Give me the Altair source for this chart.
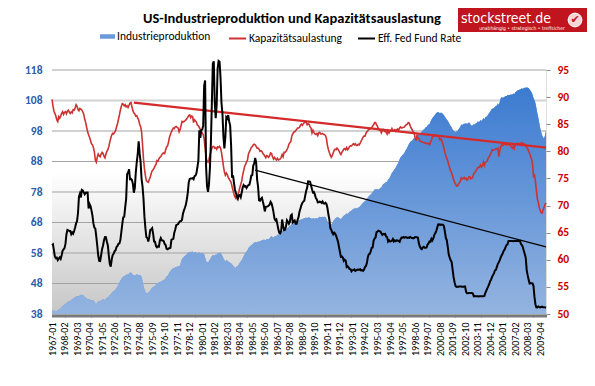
import altair as alt
import pandas as pd

# ---------------- data (monthly, 1967-01 .. 2009-10) ----------------
START_YEAR = 1967

ip = [  # Industrieproduktion (index, left axis)
    39.3, 39.1, 39.0, 39.1, 38.9, 39.0, 39.2, 39.5, 39.6, 39.8, 40.2, 40.6,
    40.8, 41.1, 41.4, 41.5, 41.9, 42.1, 42.2, 42.3, 42.6, 42.8, 43.1, 43.3,
    43.5, 43.7, 43.9, 43.8, 43.9, 44.1, 44.2, 44.3, 44.2, 44.0, 43.6, 43.4,
    43.1, 42.9, 42.8, 42.7, 42.6, 42.5, 42.5, 42.4, 42.1, 41.4, 41.3, 41.7,
    42.2, 42.1, 42.2, 42.5, 42.7, 42.8, 42.7, 42.6, 43.0, 43.3, 43.5, 43.7,
    44.2, 44.5, 44.9, 45.3, 45.5, 45.7, 46.0, 46.5, 47.0, 47.7, 48.3, 48.9,
    49.5, 50.0, 50.2, 50.4, 50.6, 50.8, 51.0, 50.9, 51.3, 51.5, 51.6, 51.3,
    50.9, 50.6, 50.6, 50.7, 51.0, 50.9, 50.8, 50.8, 50.6, 50.2, 48.8, 47.2,
    46.1, 45.2, 44.7, 44.8, 44.9, 45.3, 45.7, 46.2, 46.6, 46.8, 47.0, 47.3,
    47.7, 48.2, 48.2, 48.4, 48.5, 48.6, 48.7, 49.0, 49.2, 49.2, 49.8, 50.4,
    50.5, 51.0, 51.7, 52.1, 52.5, 52.8, 53.0, 53.1, 53.3, 53.4, 53.5, 53.7,
    53.5, 54.0, 55.0, 56.1, 56.4, 56.8, 57.0, 57.3, 57.6, 57.9, 58.2, 58.4,
    58.2, 58.4, 58.5, 57.9, 58.3, 58.3, 58.2, 57.9, 58.1, 58.2, 58.0, 58.0,
    58.0, 57.9, 57.6, 56.5, 55.4, 55.0, 54.9, 55.3, 55.9, 56.4, 57.0, 57.3,
    57.2, 57.2, 57.5, 57.4, 57.8, 57.9, 58.2, 58.0, 57.6, 57.0, 56.3, 55.7,
    55.1, 55.8, 55.5, 55.2, 55.0, 54.8, 54.6, 54.2, 53.9, 53.5, 53.3, 53.0,
    53.7, 53.7, 54.2, 54.8, 55.2, 55.6, 56.3, 56.9, 57.6, 58.1, 58.5, 58.8,
    59.6, 60.0, 60.3, 60.6, 60.8, 61.1, 61.4, 61.6, 61.5, 61.5, 61.7, 61.8,
    61.8, 62.0, 62.2, 62.2, 62.4, 62.3, 62.2, 62.6, 62.6, 62.5, 62.8, 63.3,
    63.5, 63.2, 63.1, 63.4, 63.5, 63.6, 64.0, 64.0, 64.2, 64.5, 64.8, 65.2,
    65.0, 65.5, 65.6, 65.9, 66.1, 66.3, 66.6, 66.9, 67.1, 67.6, 67.8, 68.0,
    68.1, 68.2, 68.3, 68.4, 68.6, 68.7, 68.9, 69.1, 69.0, 69.3, 69.4, 69.5,
    69.6, 69.4, 69.6, 69.7, 69.5, 69.5, 69.0, 69.5, 69.3, 69.2, 69.3, 69.5,
    69.2, 69.7, 69.9, 69.7, 69.8, 69.9, 69.8, 69.9, 69.8, 69.2, 68.4, 68.0,
    67.7, 67.5, 67.3, 67.7, 68.3, 68.9, 69.2, 69.4, 69.8, 69.7, 69.5, 69.3,
    69.1, 69.5, 69.9, 70.2, 70.5, 70.6, 71.0, 70.8, 71.1, 71.5, 71.7, 71.9,
    72.2, 72.5, 72.5, 72.7, 72.6, 72.7, 72.9, 73.0, 73.3, 73.7, 74.1, 74.5,
    74.8, 74.9, 75.4, 75.8, 76.2, 76.6, 76.9, 77.2, 77.5, 78.0, 78.3, 78.8,
    78.9, 78.8, 78.9, 78.8, 79.0, 79.4, 79.4, 80.1, 80.6, 80.7, 81.0, 81.3,
    81.3, 82.2, 82.3, 83.0, 83.6, 84.3, 84.6, 85.1, 85.6, 86.0, 86.7, 87.3,
    87.8, 88.7, 89.4, 89.7, 90.1, 90.5, 90.9, 91.5, 92.0, 92.6, 93.3, 93.9,
    94.4, 94.6, 94.9, 95.3, 95.8, 95.5, 95.2, 96.7, 96.6, 97.1, 97.2, 97.4,
    97.8, 98.2, 98.5, 98.7, 99.2, 99.3, 99.8, 100.1, 100.2, 101.0, 101.7, 102.3,
    102.6, 103.0, 103.4, 103.9, 104.1, 104.2, 104.0, 103.8, 104.1, 103.8, 103.6, 103.2,
    102.7, 102.2, 101.8, 101.4, 100.8, 100.1, 99.6, 99.2, 98.5, 98.1, 97.8, 97.7,
    97.8, 97.9, 98.5, 98.9, 99.4, 100.1, 100.0, 100.2, 100.5, 100.3, 100.6, 100.2,
    100.6, 100.8, 100.5, 99.9, 99.7, 99.9, 100.2, 100.1, 100.5, 100.6, 101.1, 101.0,
    101.0, 101.6, 101.3, 101.7, 102.3, 101.8, 102.5, 102.7, 102.8, 103.5, 103.8, 104.4,
    104.8, 105.4, 105.3, 105.6, 105.9, 106.3, 106.3, 107.1, 106.5, 107.6, 108.7, 109.1,
    108.9, 109.0, 109.2, 109.5, 109.4, 109.8, 109.7, 109.8, 109.9, 110.0, 109.9, 110.4,
    110.0, 110.6, 110.9, 111.3, 111.3, 111.5, 111.6, 111.8, 112.0, 111.8, 112.1, 112.2,
    112.3, 112.2, 112.3, 112.0, 111.6, 111.2, 110.7, 110.0, 108.8, 108.2, 107.2, 105.6,
    103.8, 102.4, 100.6, 99.0, 97.6, 96.6, 95.9, 95.6, 96.6, 98.2,
]

cu = [  # Kapazitaetsauslastung (%, right axis)
    89.6, 88.4, 87.4, 87.0, 86.5, 85.8, 85.5, 86.4, 86.1, 86.5, 87.0, 87.3,
    86.8, 87.2, 87.3, 86.9, 87.4, 87.6, 87.2, 87.0, 87.3, 87.1, 87.7, 87.6,
    88.0, 88.6, 88.3, 87.7, 87.5, 87.9, 87.8, 87.6, 87.3, 86.8, 85.9, 85.3,
    84.4, 83.6, 83.0, 82.6, 82.0, 81.4, 81.2, 80.7, 79.9, 78.4, 78.0, 78.9,
    79.5, 79.2, 79.0, 79.5, 79.8, 79.6, 79.1, 78.8, 79.5, 80.0, 80.3, 80.9,
    81.7, 82.4, 83.0, 83.3, 83.2, 83.5, 83.8, 84.5, 85.1, 85.9, 86.7, 87.6,
    88.3, 88.8, 88.7, 88.4, 88.6, 88.2, 88.4, 88.1, 88.5, 88.9, 89.0, 88.2,
    87.5, 87.1, 86.9, 86.5, 86.6, 86.1, 85.8, 85.0, 84.6, 83.6, 81.3, 78.6,
    76.8, 75.5, 74.6, 74.4, 74.3, 74.8, 75.2, 75.9, 76.4, 76.6, 76.9, 77.3,
    77.6, 78.3, 78.2, 78.6, 78.9, 79.0, 79.4, 79.6, 79.7, 79.6, 80.3, 80.8,
    81.0, 81.7, 82.6, 83.1, 83.6, 84.0, 84.3, 84.2, 84.5, 84.6, 84.4, 84.3,
    83.6, 84.0, 84.7, 85.5, 85.4, 85.5, 85.6, 85.8, 86.0, 86.3, 86.6, 86.7,
    86.2, 86.5, 86.4, 85.3, 85.8, 85.6, 85.4, 84.8, 84.7, 84.4, 84.0, 83.6,
    83.4, 83.1, 82.3, 80.6, 78.9, 78.2, 78.0, 78.5, 79.3, 79.9, 80.6, 80.9,
    80.9, 80.6, 80.7, 80.4, 80.8, 80.7, 80.9, 80.6, 79.8, 78.6, 77.3, 76.2,
    75.6, 76.0, 75.7, 75.2, 74.9, 74.6, 74.3, 73.5, 72.8, 72.1, 71.6, 71.3,
    72.0, 72.0, 72.5, 73.3, 73.9, 74.5, 75.6, 76.4, 77.2, 77.6, 78.0, 78.4,
    79.5, 79.9, 80.3, 80.7, 80.9, 81.2, 81.3, 81.2, 80.9, 80.6, 80.6, 80.4,
    80.0, 80.1, 80.0, 79.6, 79.4, 79.1, 78.8, 79.2, 79.1, 78.9, 79.2, 79.7,
    79.6, 79.0, 78.6, 78.9, 78.6, 78.4, 78.7, 78.4, 78.5, 78.6, 78.9, 79.4,
    79.0, 79.8, 79.8, 80.0, 80.3, 80.7, 81.3, 81.6, 81.8, 82.8, 83.2, 83.5,
    83.6, 83.8, 84.0, 84.3, 84.3, 84.4, 84.8, 85.0, 84.8, 85.1, 85.3, 85.4,
    85.3, 84.9, 85.1, 85.0, 84.5, 84.3, 83.4, 83.9, 83.5, 83.2, 83.1, 83.3,
    82.9, 83.4, 83.5, 83.2, 83.2, 83.3, 83.1, 83.1, 82.9, 82.4, 81.1, 80.4,
    79.8, 79.3, 78.9, 79.2, 79.7, 80.2, 80.4, 80.3, 80.6, 80.4, 80.1, 79.7,
    79.4, 79.8, 80.1, 80.4, 80.5, 80.3, 80.7, 80.3, 80.5, 80.9, 81.0, 81.0,
    81.2, 81.4, 81.2, 81.4, 81.1, 81.1, 81.3, 81.2, 81.5, 81.9, 82.2, 82.6,
    82.8, 82.8, 83.3, 83.6, 83.8, 84.1, 84.1, 84.2, 84.3, 84.7, 84.9, 85.3,
    85.3, 84.9, 84.6, 84.1, 83.9, 83.9, 83.4, 83.8, 84.0, 83.7, 83.6, 83.6,
    83.2, 83.8, 83.4, 83.7, 83.8, 84.2, 83.8, 83.9, 84.0, 83.7, 84.0, 84.1,
    83.9, 84.3, 84.5, 84.3, 84.4, 84.4, 84.5, 84.8, 84.9, 85.0, 85.3, 85.2,
    84.7, 84.3, 84.0, 83.6, 83.4, 82.6, 82.0, 82.9, 82.4, 82.3, 81.9, 81.8,
    81.8, 81.7, 81.6, 81.5, 81.6, 81.4, 81.5, 81.4, 81.2, 81.7, 82.1, 82.6,
    82.8, 82.9, 82.8, 83.0, 82.9, 82.8, 82.5, 82.1, 82.3, 81.8, 81.3, 80.6,
    79.8, 79.2, 78.7, 78.2, 77.5, 76.9, 76.4, 76.0, 75.4, 74.8, 74.3, 74.0,
    73.6, 73.6, 73.9, 74.2, 74.5, 75.1, 74.9, 75.0, 75.2, 74.9, 75.0, 74.7,
    74.9, 75.3, 75.3, 74.9, 75.0, 75.3, 75.9, 76.0, 76.4, 76.6, 77.0, 77.0,
    77.1, 77.5, 77.1, 77.4, 78.0, 77.4, 78.0, 78.1, 78.2, 78.8, 79.0, 79.4,
    79.7, 80.3, 80.2, 80.3, 80.3, 80.5, 80.4, 80.6, 79.0, 80.2, 80.9, 81.3,
    81.1, 81.2, 81.3, 81.5, 81.2, 81.4, 81.2, 81.3, 81.1, 80.8, 80.6, 81.0,
    80.5, 81.2, 81.3, 81.5, 81.3, 81.4, 81.4, 81.5, 81.6, 81.2, 81.4, 81.3,
    81.0, 80.7, 80.5, 80.0, 79.6, 79.1, 78.6, 77.6, 75.4, 75.6, 74.5, 72.9,
    71.2, 70.6, 69.6, 69.1, 68.7, 68.6, 69.2, 69.7, 70.2, 70.5,
]

ff = [  # Effective Fed Funds Rate (%)
    4.94, 5.00, 4.53, 4.05, 3.94, 3.98, 3.79, 3.90, 3.99, 3.88, 4.13, 4.51,
    4.61, 4.71, 5.05, 5.76, 6.11, 6.07, 6.03, 6.03, 5.78, 5.91, 5.82, 6.02,
    6.30, 6.61, 6.79, 7.41, 8.67, 8.90, 8.61, 9.19, 9.15, 9.00, 8.85, 8.97,
    8.98, 8.98, 7.76, 8.10, 7.95, 7.61, 7.21, 6.61, 6.29, 6.20, 5.60, 4.90,
    4.14, 3.72, 3.71, 4.16, 4.63, 4.91, 5.31, 5.56, 5.55, 5.20, 4.91, 4.14,
    3.50, 3.29, 3.83, 4.17, 4.27, 4.46, 4.55, 4.80, 4.87, 5.04, 5.06, 5.33,
    5.94, 6.58, 7.09, 7.12, 7.84, 8.49, 10.40, 10.50, 10.78, 10.01, 10.03, 9.95,
    9.65, 8.97, 9.35, 10.51, 11.31, 11.93, 12.92, 12.01, 11.34, 10.06, 9.45, 8.53,
    7.13, 6.24, 5.54, 5.49, 5.22, 5.55, 6.10, 6.14, 6.24, 5.82, 5.22, 5.20,
    4.87, 4.77, 4.84, 4.82, 5.29, 5.48, 5.31, 5.29, 5.25, 5.03, 4.95, 4.65,
    4.61, 4.68, 4.69, 4.73, 5.35, 5.39, 5.42, 5.90, 6.14, 6.47, 6.51, 6.56,
    6.70, 6.78, 6.79, 6.89, 7.36, 7.60, 7.81, 8.04, 8.45, 8.96, 9.76, 10.03,
    10.07, 10.06, 10.09, 10.01, 10.24, 10.29, 10.47, 10.94, 11.43, 13.77, 13.18, 13.78,
    13.82, 14.13, 17.19, 17.61, 10.98, 9.47, 9.03, 9.61, 10.87, 12.81, 15.85, 18.90,
    19.08, 15.93, 14.70, 15.72, 18.52, 19.10, 19.04, 17.82, 15.87, 15.08, 13.31, 12.37,
    13.22, 14.78, 14.68, 14.94, 14.45, 14.15, 12.59, 10.12, 10.31, 9.71, 9.20, 8.95,
    8.68, 8.51, 8.77, 8.80, 8.63, 8.98, 9.37, 9.56, 9.45, 9.48, 9.34, 9.47,
    9.56, 9.59, 9.91, 10.29, 10.32, 11.06, 11.23, 11.64, 11.30, 9.99, 9.43, 8.38,
    8.35, 8.50, 8.58, 8.27, 7.97, 7.53, 7.88, 7.90, 7.92, 7.99, 8.05, 8.27,
    8.14, 7.86, 7.48, 6.99, 6.85, 6.92, 6.56, 6.17, 5.89, 5.85, 6.04, 6.91,
    6.43, 6.10, 6.13, 6.37, 6.85, 6.73, 6.58, 6.73, 7.22, 7.29, 6.69, 6.77,
    6.83, 6.58, 6.58, 6.87, 7.09, 7.51, 7.75, 8.01, 8.19, 8.30, 8.35, 8.76,
    9.12, 9.36, 9.85, 9.84, 9.81, 9.53, 9.24, 8.99, 9.02, 8.84, 8.55, 8.45,
    8.23, 8.24, 8.28, 8.26, 8.18, 8.29, 8.15, 8.13, 8.20, 8.11, 7.81, 7.31,
    6.91, 6.25, 6.12, 5.91, 5.78, 5.90, 5.82, 5.66, 5.45, 5.21, 4.81, 4.43,
    4.03, 4.06, 3.98, 3.73, 3.82, 3.76, 3.25, 3.30, 3.22, 3.10, 3.09, 2.92,
    3.02, 3.03, 3.07, 2.96, 3.00, 3.04, 3.06, 3.03, 3.09, 2.99, 3.02, 2.96,
    3.05, 3.25, 3.34, 3.56, 4.01, 4.25, 4.26, 4.47, 4.73, 4.76, 5.29, 5.45,
    5.53, 5.92, 5.98, 6.05, 6.01, 6.00, 5.85, 5.74, 5.80, 5.76, 5.80, 5.60,
    5.56, 5.22, 5.31, 5.22, 5.24, 5.27, 5.40, 5.22, 5.30, 5.24, 5.31, 5.29,
    5.25, 5.19, 5.39, 5.51, 5.50, 5.56, 5.52, 5.54, 5.54, 5.50, 5.52, 5.50,
    5.56, 5.51, 5.49, 5.45, 5.49, 5.56, 5.54, 5.55, 5.51, 5.07, 4.83, 4.68,
    4.63, 4.76, 4.81, 4.74, 4.74, 4.76, 4.99, 5.07, 5.22, 5.20, 5.42, 5.30,
    5.45, 5.73, 5.85, 6.02, 6.27, 6.53, 6.54, 6.50, 6.52, 6.51, 6.51, 6.40,
    5.98, 5.49, 5.31, 4.80, 4.21, 3.97, 3.77, 3.65, 3.07, 2.49, 2.09, 1.82,
    1.73, 1.74, 1.73, 1.75, 1.75, 1.75, 1.73, 1.74, 1.75, 1.75, 1.34, 1.24,
    1.24, 1.26, 1.25, 1.26, 1.26, 1.22, 1.01, 1.03, 1.01, 1.01, 1.00, 0.98,
    1.00, 1.01, 1.00, 1.00, 1.00, 1.03, 1.26, 1.43, 1.61, 1.76, 1.93, 2.16,
    2.28, 2.50, 2.63, 2.79, 3.00, 3.04, 3.26, 3.50, 3.62, 3.78, 4.00, 4.16,
    4.29, 4.49, 4.59, 4.79, 4.94, 4.99, 5.24, 5.25, 5.25, 5.25, 5.25, 5.24,
    5.25, 5.26, 5.26, 5.25, 5.25, 5.25, 5.26, 5.02, 4.94, 4.76, 4.49, 4.24,
    3.94, 2.98, 2.61, 2.28, 1.98, 2.00, 2.01, 2.00, 1.81, 0.97, 0.39, 0.16,
    0.15, 0.22, 0.18, 0.15, 0.18, 0.21, 0.16, 0.16, 0.15, 0.12,
]

# trend lines (month index, value)
trend_cu_t = [85, 513]
trend_cu_v = [89.0, 80.7]
trend_ff_t = [211, 513]
trend_ff_v = [10.7, 4.8]

left_ticks = [38, 48, 58, 68, 78, 88, 98, 108, 118]
right_ticks = [50, 55, 60, 65, 70, 75, 80, 85, 90, 95]

TITLE = "US-Industrieproduktion und Kapazitätsauslastung"
LEG_IP = "Industrieproduktion"
LEG_CU = "Kapazitätsaulastung"
LEG_FF = "Eff. Fed Fund Rate"

# ---------------- frames ----------------
N = len(ip)
t = list(range(N))
df_ip = pd.DataFrame({"t": t, "v": ip, "s": LEG_IP})
df_cu = pd.DataFrame({"t": t, "v": cu, "s": LEG_CU})
df_ff = pd.DataFrame({"t": t, "v": ff, "s": LEG_FF})
df_tcu = pd.DataFrame({"t": trend_cu_t, "v": trend_cu_v})
df_tff = pd.DataFrame({"t": trend_ff_t, "v": trend_ff_v})
df_grid = pd.DataFrame({"g": left_ticks})
df_one = pd.DataFrame({"a": [0]})

FONT = "Carlito, Calibri, 'Liberation Sans Narrow', 'Liberation Sans', sans-serif"

xscale = alt.Scale(domain=[0, N - 1], nice=False, zero=False)
label_expr = ("datum.value % 13 == 0 ? (1967 + floor(datum.value / 12)) + '-' + "
              "(datum.value % 12 < 9 ? '0' : '') + (datum.value % 12 + 1) : ''")
xaxis = alt.Axis(values=t, labelExpr=label_expr, labelAngle=270, labelFontSize=10,
                 labelColor="#000000", labelFont=FONT, labelOverlap=False,
                 labelFlush=False, labelBound=False, labelPadding=5,
                 tickColor="#7a7a7a", tickSize=3, domain=False, grid=False, title=None)
X = alt.X("t:Q", scale=xscale, axis=xaxis)

ip_scale = alt.Scale(domain=[38, 118], nice=False, zero=False)
cu_scale = alt.Scale(domain=[50, 95], nice=False, zero=False)
ff_scale = alt.Scale(domain=[-0.36, 18.41], nice=False, zero=False)

bg_grad = alt.Gradient(gradient="linear", x1=0, y1=0, x2=0, y2=1,
                       stops=[alt.GradientStop(offset=0, color="#ffffff"),
                              alt.GradientStop(offset=0.42, color="#ffffff"),
                              alt.GradientStop(offset=1, color="#c6c6c6")])
area_grad = alt.Gradient(gradient="linear", x1=0, y1=0, x2=0, y2=1,
                         stops=[alt.GradientStop(offset=0, color="#3c7bd1"),
                                alt.GradientStop(offset=1, color="#94b4e0")])

bg = alt.Chart(df_one).mark_rect(fill=bg_grad).encode(
    x=alt.X(datum=0, scale=xscale, axis=xaxis),
    x2=alt.X2(datum=N - 1),
    y=alt.Y(datum=38, scale=ip_scale, axis=None),
    y2=alt.Y2(datum=118),
)

grid = alt.Chart(df_grid).mark_rule().encode(
    y=alt.Y("g:Q", scale=ip_scale, axis=None),
    color=alt.condition(alt.datum.g == 108, alt.value("#d2d2d2"), alt.value("#a3a3a3")),
    strokeWidth=alt.condition(alt.datum.g == 108, alt.value(2), alt.value(1)),
)

ip_legend_area = alt.Chart(df_ip).mark_area().encode(
    x=X,
    y=alt.Y("v:Q", scale=ip_scale,
            axis=alt.Axis(orient="left", values=left_ticks, grid=False, ticks=False,
                          tickSize=0, domain=False, labelColor="#2b5ca8",
                          labelFontWeight="bold", labelFontSize=11.5, labelFont=FONT,
                          labelPadding=10, title=None)),
    y2=alt.Y2(datum=38),
    fill=alt.Fill("s:N", scale=alt.Scale(domain=[LEG_IP], range=["#6a9ad9"]),
                  legend=alt.Legend(orient="none", legendX=48, legendY=-41, title=None,
                                    symbolType="M-1,-0.3H1V0.3H-1Z", symbolSize=225,
                                    symbolStrokeWidth=0, labelFontSize=11.5, labelFont=FONT,
                                    labelOffset=2, padding=0)),
)

ip_area = alt.Chart(df_ip).mark_area(fill=area_grad).encode(
    x=X, y=alt.Y("v:Q", scale=ip_scale, axis=None), y2=alt.Y2(datum=38))

stroke_scale = alt.Scale(domain=[LEG_CU, LEG_FF], range=["#cc3333", "#000000"])
stroke_legend = alt.Legend(orient="none", legendX=176, legendY=-41, title=None,
                           direction="horizontal", symbolType="stroke", symbolSize=289,
                           symbolStrokeWidth=2, labelFontSize=11.5, labelFont=FONT,
                           labelOffset=2, columnPadding=12, padding=0)

cu_line = alt.Chart(df_cu).mark_line(strokeWidth=1.6).encode(
    x=X,
    y=alt.Y("v:Q", scale=cu_scale,
            axis=alt.Axis(orient="right", values=right_ticks, grid=False, ticks=True,
                          tickSize=4, tickColor="#8c8c8c", domain=False,
                          labelColor="#cc0000", labelFontWeight="bold",
                          labelFontSize=11.5, labelFont=FONT, labelPadding=7, title=None)),
    stroke=alt.Stroke("s:N", scale=stroke_scale, legend=stroke_legend),
)

cu_trend = alt.Chart(df_tcu).mark_line(strokeWidth=2.2, color="#d42a2a").encode(
    x=X, y=alt.Y("v:Q", scale=cu_scale, axis=None))

ff_line = alt.Chart(df_ff).mark_line(strokeWidth=2).encode(
    x=X, y=alt.Y("v:Q", scale=ff_scale, axis=None),
    stroke=alt.Stroke("s:N", scale=stroke_scale, legend=stroke_legend),
)

ff_trend = alt.Chart(df_tff).mark_line(strokeWidth=1.3, color="#000000").encode(
    x=X, y=alt.Y("v:Q", scale=ff_scale, axis=None))

# title (real text)
title_txt = alt.Chart(df_one).mark_text(
    text=TITLE, color="#000000", fontSize=14.5, font=FONT, fontWeight="bold",
    align="left", baseline="alphabetic").encode(x=alt.value(91), y=alt.value(-47))

# logo (decoration)
logo_box = alt.Chart(df_one).mark_rect(fill="#c0151f").encode(
    x=alt.value(406), x2=alt.value(535), y=alt.value(-62), y2=alt.value(-38))
logo_text = alt.Chart(df_one).mark_text(
    text="stockstreet.de", color="#ffffff", fontSize=14,
    font="'DejaVu Sans Condensed', 'DejaVu Sans'",
    align="left", baseline="alphabetic").encode(x=alt.value(409), y=alt.value(-47))
logo_sub = alt.Chart(df_one).mark_text(
    text="unabhängig • strategisch • treffsicher", color="#ffffff", fontSize=5,
    font="'DejaVu Sans Condensed', 'DejaVu Sans'", align="center",
    baseline="alphabetic").encode(x=alt.value(470), y=alt.value(-40.5))
logo_circle = alt.Chart(df_one).mark_point(
    filled=True, shape="circle", size=190, fill="#f4d6d6", stroke="#ffffff",
    strokeWidth=1, opacity=1).encode(x=alt.value(523), y=alt.value(-50))
logo_check = alt.Chart(df_one).mark_text(
    text="✔", color="#c0151f", fontSize=11, font="DejaVu Sans",
    align="center", baseline="middle").encode(x=alt.value(523), y=alt.value(-50))

chart = alt.layer(
    bg, grid, ip_legend_area, ip_area, cu_line, cu_trend, ff_line, ff_trend,
    title_txt, logo_box, logo_text, logo_sub, logo_circle, logo_check,
).resolve_scale(y="independent").properties(
    width=494, height=244,
    padding={"left": 44, "top": 62, "right": 41, "bottom": 64},
    autosize=alt.AutoSizeParams(type="none"),
).configure_view(stroke="#a0a0a0", strokeWidth=1).configure(background="#ffffff")

chart.save("out.html", embed_options={"renderer": "svg", "actions": False})
